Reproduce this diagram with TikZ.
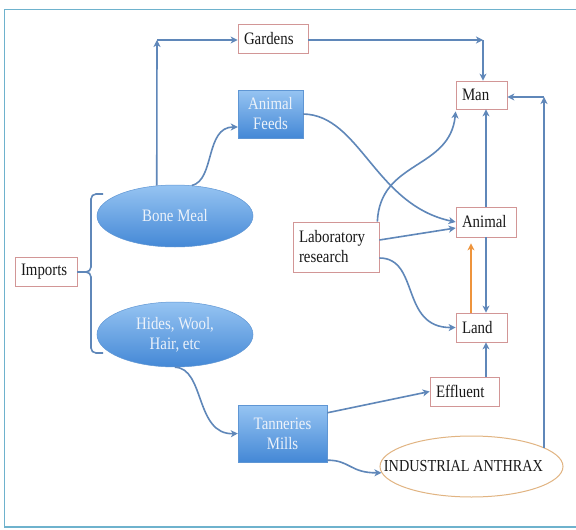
\documentclass[tikz,border=0pt]{standalone}
\usepackage{fontspec}
\setmainfont{Liberation Serif}[FakeStretch=0.85]
\usetikzlibrary{shapes.geometric,arrows.meta,calc}
\definecolor{frame}{RGB}{110,178,205}
\definecolor{boxred}{RGB}{210,150,150}
\definecolor{arrblue}{RGB}{95,135,185}
\definecolor{orng}{RGB}{238,148,60}
\definecolor{tan}{RGB}{225,180,130}
\definecolor{bltop}{RGB}{150,196,242}
\definecolor{blbot}{RGB}{68,136,214}
\definecolor{bledge}{RGB}{95,150,212}
\definecolor{wtxt}{RGB}{236,242,250}
\definecolor{txt}{RGB}{25,25,25}
\newcommand\fs{\fontsize{17.5}{20}\selectfont}
\tikzset{
  wbox/.style={rectangle, draw=boxred, fill=white, line width=0.7pt, inner xsep=6pt, inner ysep=0pt, align=left, font=\fs, text=txt},
  bbox/.style={rectangle, top color=bltop, bottom color=blbot, draw=bledge, line width=0.4pt, align=center, font=\fs, text=wtxt, inner sep=0pt},
  bell/.style={ellipse, top color=bltop, bottom color=blbot, draw=bledge, line width=0.5pt, align=center, font=\fs, text=wtxt, inner sep=0pt},
  arr/.style={draw=arrblue, line width=1.6pt, -{Stealth[length=7pt,width=7pt,inset=2pt]}},
  oarr/.style={draw=orng, line width=1.6pt, -{Stealth[length=7pt,width=7pt,inset=2pt]}},
  brc/.style={draw=arrblue, line width=1.6pt, rounded corners=5pt},
}
\begin{document}
\begin{tikzpicture}[x=1pt,y=-1pt]
\useasboundingbox (0,0) rectangle (576,530);
\draw[frame, line width=1.3pt, fill=white] (4.7,9.3) rectangle (580,527);

% nodes
\node[wbox, text width=58pt, minimum height=29pt] (gd) at (273,38.5) {Gardens};
\node[wbox, text width=39pt, minimum height=28pt] (man) at (481.5,95) {Man};
\node[bbox, minimum width=65pt, minimum height=48pt] (af) at (270.5,114) {Animal\\Feeds};
\node[bell, minimum width=156pt, minimum height=62pt] (bm) at (175,216) {\makebox[0pt]{Bone Meal}};
\node[wbox, text width=50pt, minimum height=29pt] (im) at (46,272) {Imports};
\node[bell, minimum width=156pt, minimum height=65pt] (hw) at (175,334.5) {\makebox[0pt]{Hides, Wool,}\\\makebox[0pt]{Hair, etc}};
\node[wbox, text width=74pt, minimum height=50pt] (lab) at (336,247) {Laboratory\\research};
\node[wbox, text width=48pt, minimum height=30pt] (an) at (486,222) {Animal};
\node[wbox, text width=39pt, minimum height=29pt] (la) at (481.5,327.5) {Land};
\node[wbox, text width=57pt, minimum height=29pt] (ef) at (464.5,391.5) {Effluent};
\node[bbox, minimum width=89pt, minimum height=57pt] (tm) at (282.5,433.5) {Tanneries\\Mills};
\node[ellipse, draw=tan, fill=white, line width=1pt, minimum width=183pt, minimum height=61pt, inner sep=0pt, text=txt, font=\fontsize{16.8}{20}\selectfont] (ax) at (471.5,466.5) {\makebox[0pt]{\hspace*{-16pt}INDUSTRIAL ANTHRAX}};

% brace from Imports
\coordinate (bt) at (103,194);
\coordinate (bb) at (103,353);
\coordinate (bm1) at (91,272);
\draw[brc] (bt) -- (91,194) -- (bm1) -- (im.east);
\draw[brc] (im.east) -- (bm1) -- (91,353) -- (bb);

% Bone Meal -> Gardens
\coordinate (c1) at (157,40);
\draw[arr] (bm.121) -- (c1);
\draw[arr] (c1) -- (c1 -| gd.west);
% Gardens -> Man
\coordinate (c2) at (483,40);
\draw[arr] (gd.east |- c2) -- (c2);
\draw[arr] (c2) -- (c2 |- man.north);
% Anthrax -> Man
\coordinate (c3) at (544,97);
\draw[arr] (ax.14 -| c3) -- (c3);
\draw[arr] (c3) -- (c3 -| man.east);

% Bone Meal -> Animal Feeds
\draw[arr] (bm.61) .. controls (215,180) and (205,127) .. ([yshift=-13pt]af.west);
% Animal Feeds -> Animal
\draw[arr] (af.east) .. controls (360,115) and (375,205) .. (an.west);
% Lab -> Man
\draw[arr] ([xshift=-2pt]lab.north east) .. controls (380,160) and (450,170) .. ([yshift=-2pt]man.south west);
% Lab -> Animal
\draw[arr] ([yshift=7pt]lab.east) -- ([yshift=-6pt]an.west);
% Lab -> Land
\draw[arr] ([yshift=-11pt]lab.east) .. controls (420,258) and (400,328) .. (la.west);
% Animal -> Man
\draw[arr] (an.north) -- (an.north |- man.south);
% Animal -> Land
\draw[arr] (an.south) -- (an.south |- la.north);
% Land -> Animal (orange)
\draw[oarr] ([xshift=-10.5pt]la.north) -- ([xshift=-15pt,yshift=-6pt]an.south);
% Effluent -> Land
\draw[arr] ([xshift=21.5pt]ef.north) -- ([xshift=21.5pt]ef.north |- la.south);
% Hides -> Tanneries
\draw[arr] (hw.south) .. controls (205,368) and (195,435) .. (tm.west);
% Tanneries -> Effluent
\draw[arr] ([yshift=-8pt]tm.north east) -- (ef.west);
% Tanneries -> Anthrax
\draw[arr] ([yshift=2pt]tm.south east) .. controls (350,460) and (350,473) .. (ax.184);
\end{tikzpicture}
\end{document}
